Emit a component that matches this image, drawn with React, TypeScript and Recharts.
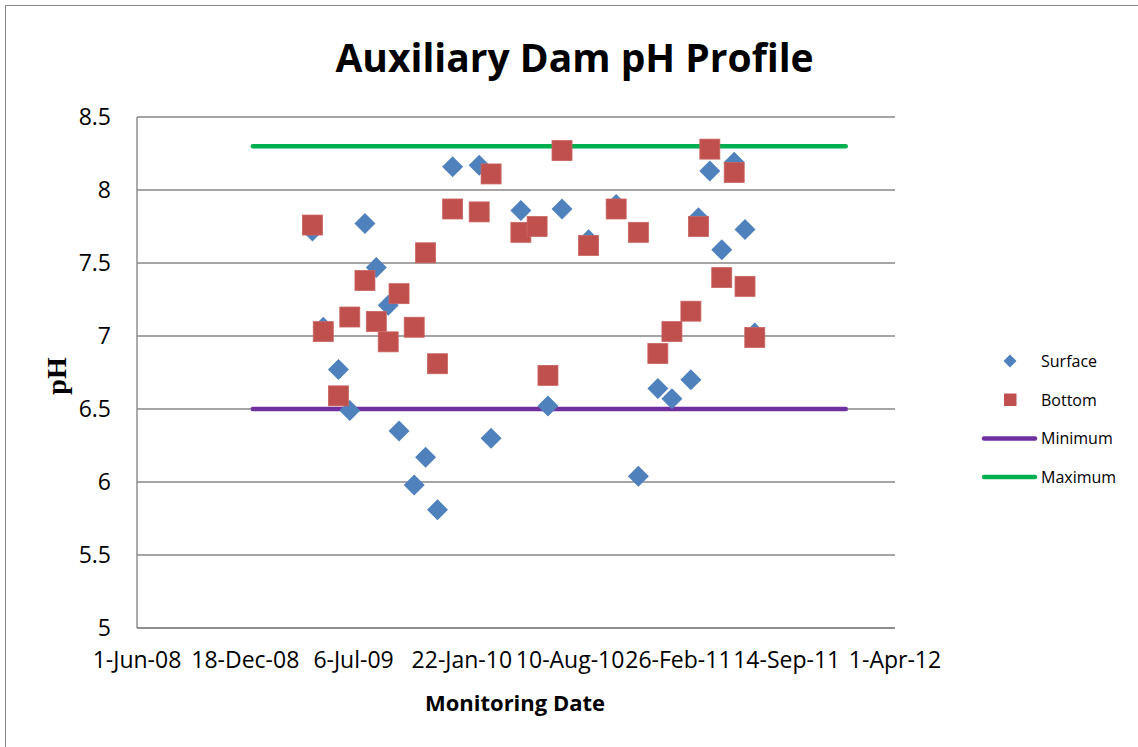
import React from 'react';
import { ScatterChart, Scatter, XAxis, YAxis, CartesianGrid } from 'recharts';

// sampling dates shared by both series
const sampleDates = [
  '2009-04-21', '2009-05-11', '2009-06-08', '2009-06-29', '2009-07-27', '2009-08-17',
  '2009-09-08', '2009-09-28', '2009-10-26', '2009-11-16', '2009-12-08', '2010-01-05',
  '2010-02-23', '2010-03-17', '2010-05-11', '2010-06-10', '2010-06-30', '2010-07-26',
  '2010-09-13', '2010-11-03', '2010-12-14', '2011-01-19', '2011-02-14', '2011-03-21',
  '2011-04-04', '2011-04-25', '2011-05-17', '2011-06-09', '2011-06-29', '2011-07-17',
];

const surfacePH = [
  7.72, 7.06, 6.77, 6.49, 7.77, 7.47,
  7.21, 6.35, 5.98, 6.17, 5.81, 8.16,
  8.17, 6.30, 7.86, null, 6.52, 7.87,
  7.66, 7.90, 6.04, 6.64, 6.57, 6.70,
  7.81, 8.13, 7.59, 8.19, 7.73, 7.02,
];

const bottomPH = [
  7.76, 7.03, 6.59, 7.13, 7.38, 7.10,
  6.96, 7.29, 7.06, 7.57, 6.81, 7.87,
  7.85, 8.11, 7.71, 7.75, 6.73, 8.27,
  7.62, 7.87, 7.71, 6.88, 7.03, 7.17,
  7.75, 8.28, 7.40, 8.12, 7.34, 6.99,
];

const limitDates = ['2009-01-01', '2012-01-01'];
const minimumPH = [6.5, 6.5];
const maximumPH = [8.3, 8.3];

const xTickDates = ['2008-06-01', '2008-12-18', '2009-07-06', '2010-01-22', '2010-08-10', '2011-02-26', '2011-09-14', '2012-04-01'];
const yTicks = [5, 5.5, 6, 6.5, 7, 7.5, 8, 8.5];

const MONTHS = ['Jan', 'Feb', 'Mar', 'Apr', 'May', 'Jun', 'Jul', 'Aug', 'Sep', 'Oct', 'Nov', 'Dec'];

const toTime = (s: string) => {
  const [y, m, d] = s.split('-').map(Number);
  return Date.UTC(y, m - 1, d);
};

const fmtDate = (t: number) => {
  const d = new Date(t);
  return `${d.getUTCDate()}-${MONTHS[d.getUTCMonth()]}-${String(d.getUTCFullYear()).slice(2)}`;
};

const surfaceData = sampleDates
  .map((d, i) => ({ x: toTime(d), y: surfacePH[i] }))
  .filter((p) => p.y != null);
const bottomData = sampleDates.map((d, i) => ({ x: toTime(d), y: bottomPH[i] }));
const minData = limitDates.map((d, i) => ({ x: toTime(d), y: minimumPH[i] }));
const maxData = limitDates.map((d, i) => ({ x: toTime(d), y: maximumPH[i] }));
const xTicks = xTickDates.map(toTime);

const FONT = '"Open Sans", "Noto Sans", sans-serif';
const GRID = '#878787';
const BLUE = '#4F81BD';
const RED = '#C0504D';
const PURPLE = '#7030A0';
const GREEN = '#00B050';

const Diamond = (props: any) => {
  const { cx, cy } = props;
  const r = 10.5;
  return <polygon points={`${cx},${cy - r} ${cx + r},${cy} ${cx},${cy + r} ${cx - r},${cy}`} fill={BLUE} />;
};

const Square = (props: any) => {
  const { cx, cy } = props;
  return <rect x={cx - 10} y={cy - 10} width={20} height={20} fill={RED} stroke="#c96562" strokeWidth={0.8} />;
};

const NoShape = () => <g />;

export default function App() {
  return (
    <div style={{ position: 'absolute', left: 0, top: 0, width: 1138, height: 747, overflow: 'hidden', background: '#fff' }}>
      <div style={{ position: 'absolute', left: 5, top: 5, width: 1200, height: 800, borderTop: `1.5px solid ${GRID}`, borderLeft: `1.5px solid ${GRID}` }} />
      <ScatterChart width={1138} height={747} margin={{ top: 117, right: 243, bottom: 79, left: 77 }}>
        <CartesianGrid vertical={false} stroke={GRID} strokeWidth={1.4} />
        <XAxis
          type="number"
          dataKey="x"
          domain={[xTicks[0], xTicks[xTicks.length - 1]]}
          ticks={xTicks}
          tickFormatter={fmtDate}
          interval={0}
          height={40}
          tickLine={false}
          tickSize={0}
          tickMargin={24}
          axisLine={{ stroke: GRID, strokeWidth: 1.4 }}
          tick={{ fill: '#000', fontSize: 23, fontFamily: FONT }}
        />
        <YAxis
          type="number"
          dataKey="y"
          domain={[5, 8.5]}
          ticks={yTicks}
          interval={0}
          width={60}
          tickLine={false}
          tickSize={0}
          tickMargin={26}
          axisLine={{ stroke: GRID, strokeWidth: 1.4 }}
          tick={{ fill: '#000', fontSize: 23, fontFamily: FONT }}
        />
        <Scatter
          name="Minimum"
          data={minData}
          line={{ stroke: PURPLE, strokeWidth: 4.5, strokeLinecap: 'round' }}
          shape={NoShape}
          isAnimationActive={false}
        />
        <Scatter
          name="Maximum"
          data={maxData}
          line={{ stroke: GREEN, strokeWidth: 4.5, strokeLinecap: 'round' }}
          shape={NoShape}
          isAnimationActive={false}
        />
        <Scatter name="Surface" data={surfaceData} shape={Diamond} isAnimationActive={false} />
        <Scatter name="Bottom" data={bottomData} shape={Square} isAnimationActive={false} />
      </ScatterChart>
      <svg width={1138} height={747} style={{ position: 'absolute', left: 0, top: 0, pointerEvents: 'none' }}>
        <text x={574.5} y={72} textAnchor="middle" fontFamily={FONT} fontWeight="bold" fontSize={39} fill="#000">
          Auxiliary Dam pH Profile
        </text>
        <text x={515} y={711} textAnchor="middle" fontFamily={FONT} fontWeight="bold" fontSize={22} fill="#000">
          Monitoring Date
        </text>
        <text
          x={66}
          y={376}
          textAnchor="middle"
          transform="rotate(-90 66 376)"
          fontFamily='"Liberation Serif", "DejaVu Serif", serif'
          fontWeight="bold"
          fontSize={28}
          fill="#000"
        >
          pH
        </text>
        <g fontFamily={FONT} fontSize={16} fill="#000">
          <polygon points="1010,354.5 1016.5,361 1010,367.5 1003.5,361" fill={BLUE} />
          <text x={1041} y={367}>Surface</text>
          <rect x={1004} y={393.5} width={12.5} height={12.5} fill={RED} />
          <text x={1041} y={405.5}>Bottom</text>
          <line x1={984} y1={438.5} x2={1035} y2={438.5} stroke={PURPLE} strokeWidth={4.5} strokeLinecap="round" />
          <text x={1041} y={444}>Minimum</text>
          <line x1={984} y1={477} x2={1035} y2={477} stroke={GREEN} strokeWidth={4.5} strokeLinecap="round" />
          <text x={1041} y={482.5}>Maximum</text>
        </g>
      </svg>
    </div>
  );
}
